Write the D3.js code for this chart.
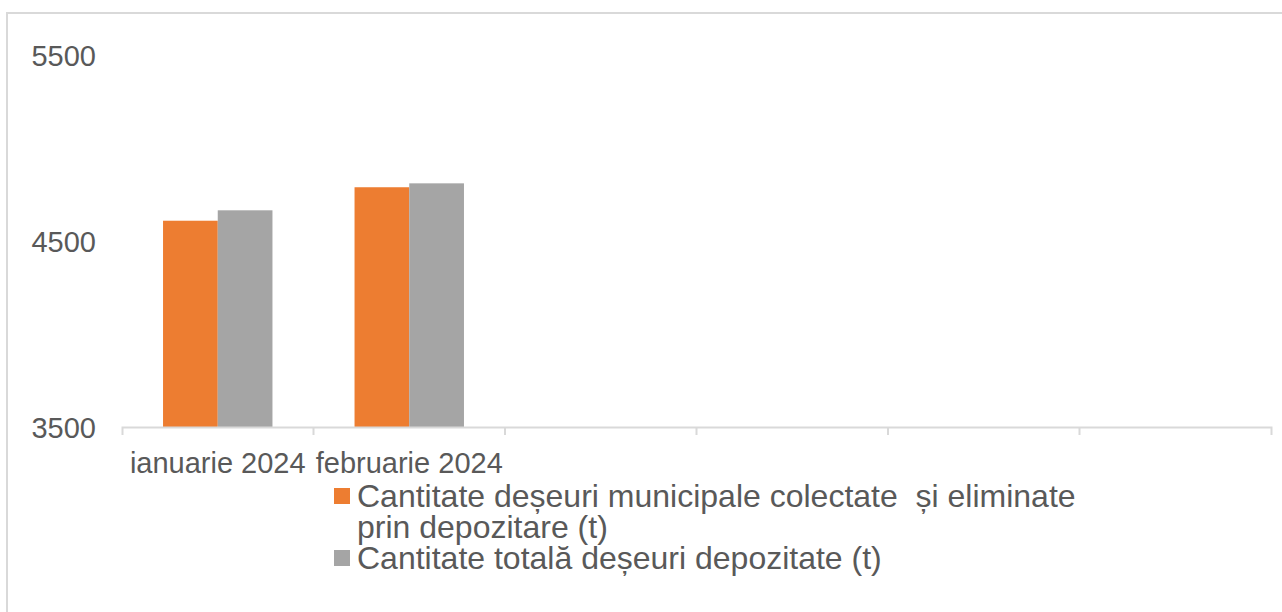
<!DOCTYPE html>
<html>
<head>
<meta charset="utf-8">
<script src="https://cdn.jsdelivr.net/npm/d3@7"></script>
<style>
  html, body { margin: 0; padding: 0; background: #fff; }
  svg { display: block; font-family: "Liberation Sans", Arial, sans-serif; }
</style>
</head>
<body>
<svg id="chart"></svg>
<script>
// date
const categories = ["ianuarie 2024", "februarie 2024", "", "", "", ""];
const municipale = [4609, 4789, null, null, null, null];
const totale = [4665, 4810, null, null, null, null];
const seriesNames = [
  ["Cantitate deșeuri municipale colectate \u00A0și eliminate", "prin depozitare (t)"],
  ["Cantitate totală deșeuri depozitate (t)"]
];
const yTicks = [3500, 4500, 5500];
const colors = ["#ED7D31", "#A5A5A5"];

const W = 1282, H = 612;
const textColor = "#595959";
const lineColor = "#D9D9D9";

const svg = d3.select("#chart").attr("width", W).attr("height", H);

// chenarul (doar sus si stanga se vad)
svg.append("path")
  .attr("d", `M7,${H} V13 H${W}`)
  .attr("fill", "none").attr("stroke", lineColor).attr("stroke-width", 2);

const x0 = d3.scaleBand().domain(d3.range(categories.length)).range([122, 1271]).padding(0);
const keys = [0, 1];
const x1 = d3.scaleBand().domain(keys).range([0, x0.bandwidth()]).paddingInner(0).paddingOuter(0.75);
const y = d3.scaleLinear().domain([3500, 5500]).range([427, 55]);

// axa Y - doar etichete
const yAxis = svg.append("g").attr("transform", "translate(96,0)")
  .call(d3.axisLeft(y).tickValues(yTicks).tickSize(0).tickPadding(0).tickFormat(d3.format("d")));
yAxis.select(".domain").remove();
yAxis.selectAll("text")
  .attr("font-size", 29).attr("fill", textColor)
  .attr("font-family", "Liberation Sans, Arial, sans-serif")
  .attr("dy", "0.37em");

// bare
const rows = categories.map((c, i) => ({ i, vals: [municipale[i], totale[i]] }));
const g = svg.selectAll(".grp").data(rows).enter().append("g")
  .attr("transform", d => `translate(${x0(d.i)},0)`);
g.selectAll("rect")
  .data(d => d.vals.map((v, k) => ({ k, v })).filter(e => e.v != null))
  .enter().append("rect")
  .attr("x", d => x1(d.k))
  .attr("width", x1.bandwidth())
  .attr("y", d => y(d.v))
  .attr("height", d => y(3500) - y(d.v))
  .attr("fill", d => colors[d.k]);

// axa X
const xAxis = svg.append("g").attr("transform", `translate(0,${y(3500)})`)
  .call(d3.axisBottom(x0).tickSize(0).tickSizeOuter(8).tickFormat(i => categories[i]));
xAxis.select(".domain").attr("stroke", lineColor).attr("stroke-width", 2);
xAxis.selectAll("text")
  .attr("font-size", 29).attr("fill", textColor)
  .attr("font-family", "Liberation Sans, Arial, sans-serif")
  .attr("y", 25).attr("dy", "0.71em");
xAxis.selectAll(".sep").data(d3.range(1, categories.length)).enter().append("line")
  .attr("class", "sep")
  .attr("x1", i => x0(i)).attr("x2", i => x0(i))
  .attr("y1", 0).attr("y2", 8)
  .attr("stroke", lineColor).attr("stroke-width", 2);

// legenda
const legend = svg.append("g").attr("font-size", 32).attr("fill", textColor);
const legendRows = [
  { k: 0, base: [507, 538] },
  { k: 1, base: [569] }
];
legendRows.forEach(r => {
  legend.append("rect")
    .attr("x", 334).attr("y", r.base[0] - 19)
    .attr("width", 16).attr("height", 16)
    .attr("fill", colors[r.k]);
  seriesNames[r.k].forEach((line, j) => {
    legend.append("text").attr("x", 357).attr("y", r.base[j]).text(line);
  });
});
</script>
</body>
</html>
